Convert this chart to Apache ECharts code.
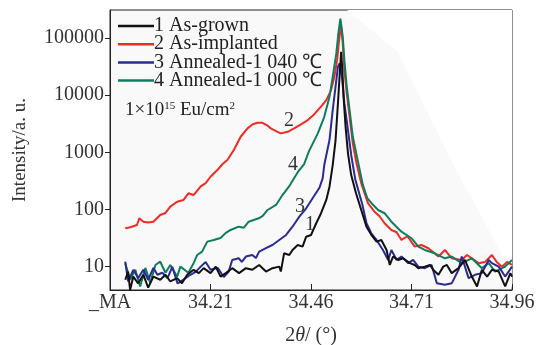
<!DOCTYPE html>
<html><head><meta charset="utf-8">
<script src="https://cdn.jsdelivr.net/npm/echarts@6/dist/echarts.min.js"></script>
<style>html,body{margin:0;padding:0;background:#fff}#c{width:537px;height:345px}</style>
</head><body><div id="c"></div>
<script>
const X0 = 33.96;
const xTickLabels = ['_MA', '34.21', '34.46', '34.71', '34.96'];
const yTickValues = [10, 100, 1000, 10000, 100000];
const seriesNames = ['1 As-grown', '2 As-implanted', '3 Annealed-1 040 \u2103', '4 Annealed-1 000 \u2103'];

const asGrownX = [33.998,34.005,34.010,34.018,34.030,34.043,34.055,34.068,34.085,34.098,34.110,34.127,34.139,34.152,34.168,34.181,34.193,34.210,34.223,34.235,34.248,34.264,34.281,34.298,34.314,34.331,34.348,34.364,34.381,34.385,34.393,34.406,34.414,34.427,34.439,34.448,34.460,34.473,34.485,34.498,34.506,34.514,34.521,34.527,34.531,34.535,34.538,34.541,34.546,34.552,34.560,34.572,34.585,34.598,34.610,34.623,34.635,34.648,34.656,34.664,34.677,34.689,34.706,34.718,34.727,34.743,34.756,34.764,34.777,34.789,34.798,34.810,34.827,34.843,34.860,34.873,34.885,34.898,34.910,34.927,34.943,34.956,34.960];
const asGrownY = [5.9,8.2,3.9,6.7,5.1,7.2,4.3,6.7,5.9,7.2,5.5,6.3,5.1,7.2,8.8,7.7,9.4,7.7,10,6.7,7.7,9.4,7.7,9.4,8.8,10.7,8.2,9.4,10,8.2,17.1,16,19.6,23.9,22.4,33.4,35.8,57.4,86,147,251,600,1600,7190,21000,57400,27500,9400,2800,960,400,192,98,50,36,27.4,29.3,19.6,10.7,15,13.1,14,11.5,10.7,9.4,10,10.7,8.8,7.2,10,10.7,7.7,9.4,13.1,6.7,4.5,8.8,6.7,8.8,8.2,4.5,7.7,6.7];

const implantedX = [33.998,34.010,34.027,34.033,34.043,34.055,34.068,34.085,34.098,34.110,34.127,34.143,34.155,34.168,34.185,34.198,34.210,34.227,34.240,34.252,34.268,34.285,34.302,34.315,34.327,34.339,34.350,34.360,34.373,34.385,34.402,34.418,34.435,34.452,34.465,34.477,34.488,34.498,34.510,34.518,34.525,34.529,34.533,34.534,34.539,34.543,34.549,34.556,34.564,34.573,34.585,34.602,34.618,34.630,34.643,34.660,34.673,34.685,34.700,34.718,34.735,34.752,34.777,34.793,34.810,34.835,34.848,34.877,34.893,34.910,34.922,34.935,34.948,34.960];
const implantedY = [46.9,49,53.6,70,61,59,61,80,87,112,137,147,192,179,251,290,374,490,625,733,1100,1875,2630,3100,3290,3290,3000,2630,2350,2148,2290,2630,3100,3670,4400,5490,6700,8200,12270,21000,41100,80500,137000,195000,80500,27500,10720,4190,1436,650,287,128,91.6,77,57.4,43.8,40,29.3,34,22.4,23.9,21,15,19.6,14,13.1,16,11.5,12.1,16,12.1,10,12.1,10.7];

const ann1040X = [33.998,34.005,34.018,34.030,34.043,34.055,34.068,34.078,34.090,34.103,34.115,34.128,34.135,34.148,34.160,34.173,34.185,34.198,34.210,34.228,34.243,34.255,34.264,34.280,34.288,34.298,34.314,34.323,34.331,34.348,34.364,34.381,34.398,34.414,34.431,34.448,34.464,34.481,34.489,34.493,34.506,34.514,34.521,34.527,34.531,34.537,34.543,34.552,34.560,34.570,34.581,34.588,34.598,34.610,34.623,34.639,34.652,34.660,34.673,34.685,34.702,34.714,34.727,34.743,34.760,34.773,34.793,34.810,34.827,34.835,34.852,34.868,34.885,34.902,34.910,34.927,34.943,34.960];
const ann1040Y = [12.2,5.5,8.8,6.3,8.8,5.9,9.5,7.2,7.8,6.3,9.9,5.1,5.4,6.3,7.2,8.1,9.9,12.1,8.8,9.5,6.6,8.1,13.1,14,12.1,15,16,14.2,18.3,21,23.9,29.3,35.8,50,75,105,157,240,350,600,1640,5490,14000,31400,36000,21000,7190,2455,900,340,180,120,57.4,38.4,29.3,19.6,13.1,19.6,13.1,15,11.5,13.1,10,9.4,10.7,5.1,4.8,5.1,8.8,15,6.3,7.2,7.7,13.1,11.5,10,6.7,10];

const ann1000X = [33.998,34.010,34.023,34.035,34.048,34.060,34.073,34.085,34.098,34.110,34.127,34.135,34.155,34.168,34.177,34.189,34.202,34.218,34.235,34.248,34.260,34.280,34.293,34.305,34.330,34.340,34.352,34.373,34.389,34.405,34.427,34.443,34.455,34.477,34.493,34.506,34.514,34.523,34.528,34.533,34.539,34.543,34.549,34.556,34.564,34.577,34.589,34.600,34.610,34.627,34.643,34.660,34.685,34.710,34.727,34.743,34.768,34.793,34.810,34.835,34.860,34.885,34.902,34.918,34.943,34.960];
const ann1000Y = [11.5,5.9,8.8,4.5,9.5,5.2,10.7,12.2,7.8,10.7,6.7,10,7.8,11.5,16,18.3,27.4,29.3,31.8,39,43.8,50,48,61.2,70.2,77,98,120,179,251,450,625,1050,2150,4190,9380,21000,53800,120000,220000,105000,41100,14000,5490,1875,680,270,158,130,98,86,61.2,40.9,31.4,22.4,19.6,17.1,14,15,11.5,14,9.4,11.5,8.2,10,13.1];

const font = 'Liberation Serif';
const toPairs = (xs, ys) => xs.map((x, i) => [x - X0, ys[i]]);
const colors = ['#111111', '#ee2b24', '#2b2b92', '#0e7d5e'];
const dataSets = [[asGrownX, asGrownY], [implantedX, implantedY], [ann1040X, ann1040Y], [ann1000X, ann1000Y]];
const zOrder = [5, 2, 4, 3];

const chart = echarts.init(document.getElementById('c'), null, {renderer: 'canvas'});
chart.setOption({
  animation: false,
  backgroundColor: '#fff',
  grid: {left: 110, right: 25, top: 10, bottom: 55, show: true, backgroundColor: '#f9f9f9', borderColor: '#222', borderWidth: 1, outerBoundsMode: 'none', containLabel: false},
  graphic: [
    {type: 'polygon', z: 0, zlevel: 0, silent: true, shape: {points: [[347, 10], [512, 10], [512, 290], [506, 262], [455, 168], [398, 52]]}, style: {fill: '#ffffff'}},
    {type: 'text', left: 125, top: 101, z: 10, style: {text: '{a|1×10}{s|15}{a| Eu/cm}{s|2}', rich: {a: {fontFamily: font, fontSize: 19, fill: '#222'}, s: {fontFamily: font, fontSize: 11, fill: '#222', verticalAlign: 'top', padding: [0, 0, 8, 0]}}}},
    {type: 'text', left: 284, top: 111, z: 10, style: {text: '2', fontFamily: font, fontSize: 20, fill: '#333'}},
    {type: 'text', left: 288, top: 155, z: 10, style: {text: '4', fontFamily: font, fontSize: 20, fill: '#333'}},
    {type: 'text', left: 295, top: 197, z: 10, style: {text: '3', fontFamily: font, fontSize: 20, fill: '#333'}},
    {type: 'text', left: 305, top: 215, z: 10, style: {text: '1', fontFamily: font, fontSize: 20, fill: '#333'}}
  ],
  legend: {
    left: 113, top: 11, orient: 'vertical', itemWidth: 36, itemHeight: 14, itemGap: -1.8,
    icon: 'path://M0,6 L36,6 L36,8.5 L0,8.5 Z',
    textStyle: {fontFamily: font, fontSize: 20, color: '#222', lineHeight: 18.3, padding: [0, 0, 0, -5]},
    data: seriesNames.map((n, i) => ({name: n, itemStyle: {color: colors[i]}}))
  },
  xAxis: {
    type: 'value', min: 0, max: 1, interval: 0.25,
    name: '{a|2}{i|θ}{a|/ (°)}', nameLocation: 'middle', nameGap: 36,
    nameTextStyle: {rich: {a: {fontFamily: font, fontSize: 20, color: '#333'}, i: {fontFamily: font, fontSize: 20, fontStyle: 'italic', color: '#333'}}},
    axisLine: {lineStyle: {color: '#222', width: 1}},
    axisTick: {inside: true, length: 6, lineStyle: {color: '#222'}},
    axisLabel: {fontFamily: font, fontSize: 20, color: '#333', margin: 3, formatter: v => xTickLabels[Math.round(v * 4)]},
    splitLine: {show: false}
  },
  yAxis: {
    type: 'log', min: 3.9, max: 310000,
    name: 'Intensity/a. u.', nameLocation: 'middle', nameGap: 80,
    nameTextStyle: {fontFamily: font, fontSize: 19, color: '#333'},
    axisLine: {show: true, lineStyle: {color: '#222', width: 1}},
    axisTick: {show: true, inside: false, length: 5, lineStyle: {color: '#222'}, customValues: yTickValues},
    axisLabel: {fontFamily: font, fontSize: 20, color: '#333', margin: 6, customValues: yTickValues, formatter: v => String(Math.round(v))},
    splitLine: {show: false},
    minorTick: {show: false}
  },
  series: dataSets.map((d, i) => ({
    name: seriesNames[i], type: 'line', data: toPairs(d[0], d[1]), showSymbol: false, symbol: 'none',
    z: zOrder[i], lineStyle: {color: colors[i], width: 2}, itemStyle: {color: colors[i]}, clip: true
  }))
});
</script></body></html>
